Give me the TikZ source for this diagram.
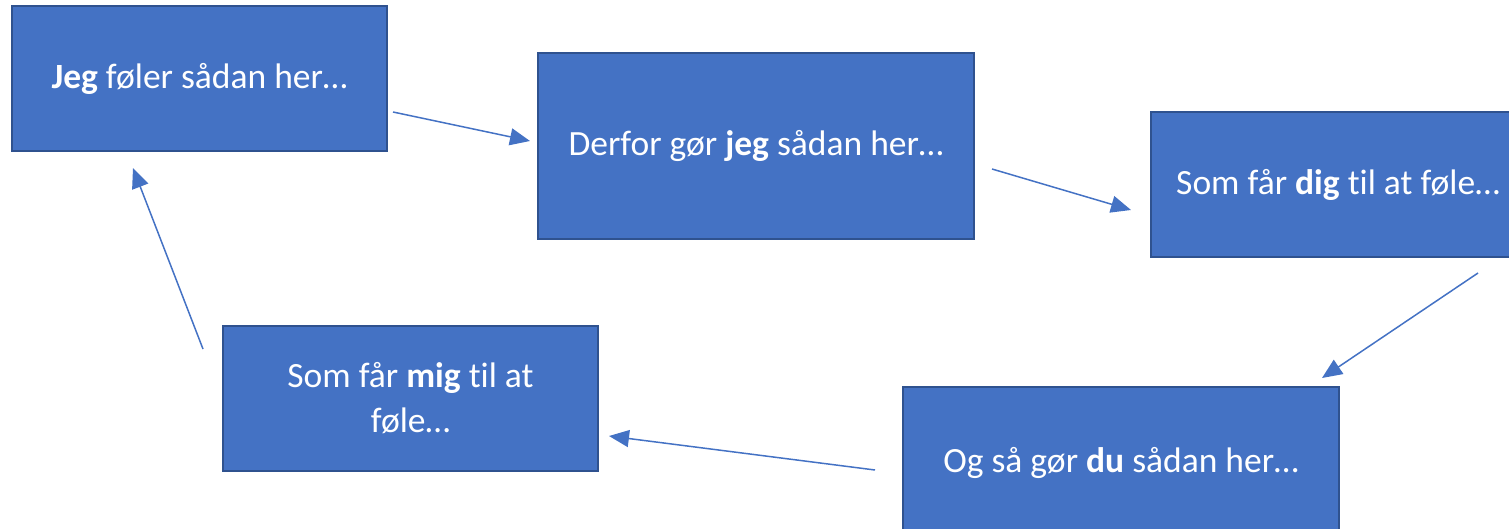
\documentclass[tikz,border=0pt]{standalone}
\usepackage{fontspec}
\setmainfont[Ligatures=NoCommon]{Carlito}
\usetikzlibrary{arrows.meta}
\definecolor{boxfill}{HTML}{4472C4}
\definecolor{boxline}{HTML}{2F528F}
\begin{document}
\begin{tikzpicture}[x=1pt,y=-1pt,
  card/.style={draw=boxline, line width=1.6pt, fill=boxfill, text=white,
    font=\fontsize{35.5}{45}\selectfont, align=center, inner sep=0pt},
  flow/.style={draw=boxfill, line width=1.5pt,
    -{Triangle[length=20pt,width=17pt]}}]
\useasboundingbox (0,0) rectangle (1509,529);
\clip (0,0) rectangle (1509,529);
\node[card, minimum width=375pt, minimum height=145pt] (feel) at (199.5,78.5)
  {\textbf{Jeg} føler sådan her…};
\node[card, minimum width=436pt, minimum height=186pt] (act) at (756,146)
  {Derfor gør \textbf{jeg} sådan her…};
\node[card, minimum width=374pt, minimum height=145pt] (you) at (1338,184.5)
  {Som får \textbf{dig} til at føle…};
\node[card, minimum width=436pt, minimum height=152pt] (react) at (1121,463)
  {Og så gør \textbf{du} sådan her…};
\node[card, minimum width=375pt, minimum height=145pt] (me) at (410.5,398.5)
  {Som får \textbf{mig} til at\\føle…};
\coordinate (a1) at (393,112); \coordinate (b1) at (530,141);
\coordinate (a2) at (992,169); \coordinate (b2) at (1131,210);
\coordinate (a3) at (1478,273); \coordinate (b3) at (1322,378);
\coordinate (a4) at (875,470); \coordinate (b4) at (609,436);
\coordinate (a5) at (203,349); \coordinate (b5) at (133,168);
\draw[flow] (a1) -- (b1);
\draw[flow] (a2) -- (b2);
\draw[flow] (a3) -- (b3);
\draw[flow] (a4) -- (b4);
\draw[flow] (a5) -- (b5);
\end{tikzpicture}
\end{document}
